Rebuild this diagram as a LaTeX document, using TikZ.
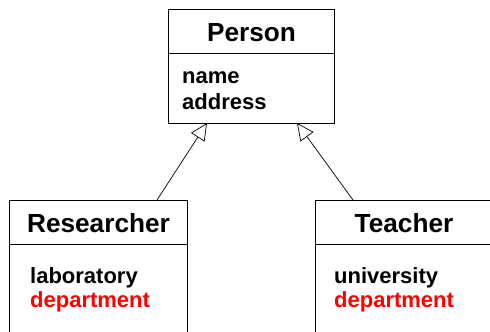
\documentclass[tikz,border=0pt]{standalone}
\usepackage{fontspec}
\setmainfont{Liberation Sans}
\usetikzlibrary{arrows.meta}
\begin{document}
\begin{tikzpicture}[x=1pt,y=-1pt,
  classbox/.style={draw, line width=0.8pt, anchor=north west, inner sep=0pt},
  sepline/.style={line width=0.8pt},
  titletext/.style={anchor=base, inner sep=0pt, font=\fontsize{26.2}{30}\selectfont\bfseries},
  attrtext/.style={anchor=base west, inner sep=0pt, font=\fontsize{22}{26}\selectfont\bfseries},
  inherit/.style={line width=0.7pt, -{Triangle[open,length=17pt,width=16pt,line width=0.7pt]}}]
\useasboundingbox (0,0) rectangle (490,332);
\clip (0,0) rectangle (490,332);
% Person
\node[classbox, minimum width=166pt, minimum height=114pt] (person) at (168,9) {};
\draw[sepline] (168,53) -- (334,53);
\node[titletext] (ptitle) at (251.5,41) {Person};
\node[attrtext] (pname) at (182,83) {name};
\node[attrtext] (paddr) at (182,109) {address};
% Researcher
\node[classbox, minimum width=178pt, minimum height=160pt] (res) at (9,200) {};
\draw[sepline] (9,244) -- (187,244);
\node[titletext] (rtitle) at (98.5,232) {Researcher};
\node[attrtext] (rlab) at (30,283) {laboratory};
\node[attrtext, text=red] (rdep) at (30,307) {department};
% Teacher
\node[classbox, minimum width=178pt, minimum height=160pt] (teach) at (315,200) {};
\draw[sepline] (315,244) -- (493,244);
\node[titletext] (ttitle) at (404,232) {Teacher};
\node[attrtext] (tuni) at (334,283) {university};
\node[attrtext, text=red] (tdep) at (334,307) {department};
% inheritance
\coordinate (rtop) at (157,200);
\coordinate (ttop) at (353,200);
\coordinate (pl) at (207,123);
\coordinate (pr) at (297,123);
\draw[inherit] (rtop) -- (pl);
\draw[inherit] (ttop) -- (pr);
\end{tikzpicture}
\end{document}
